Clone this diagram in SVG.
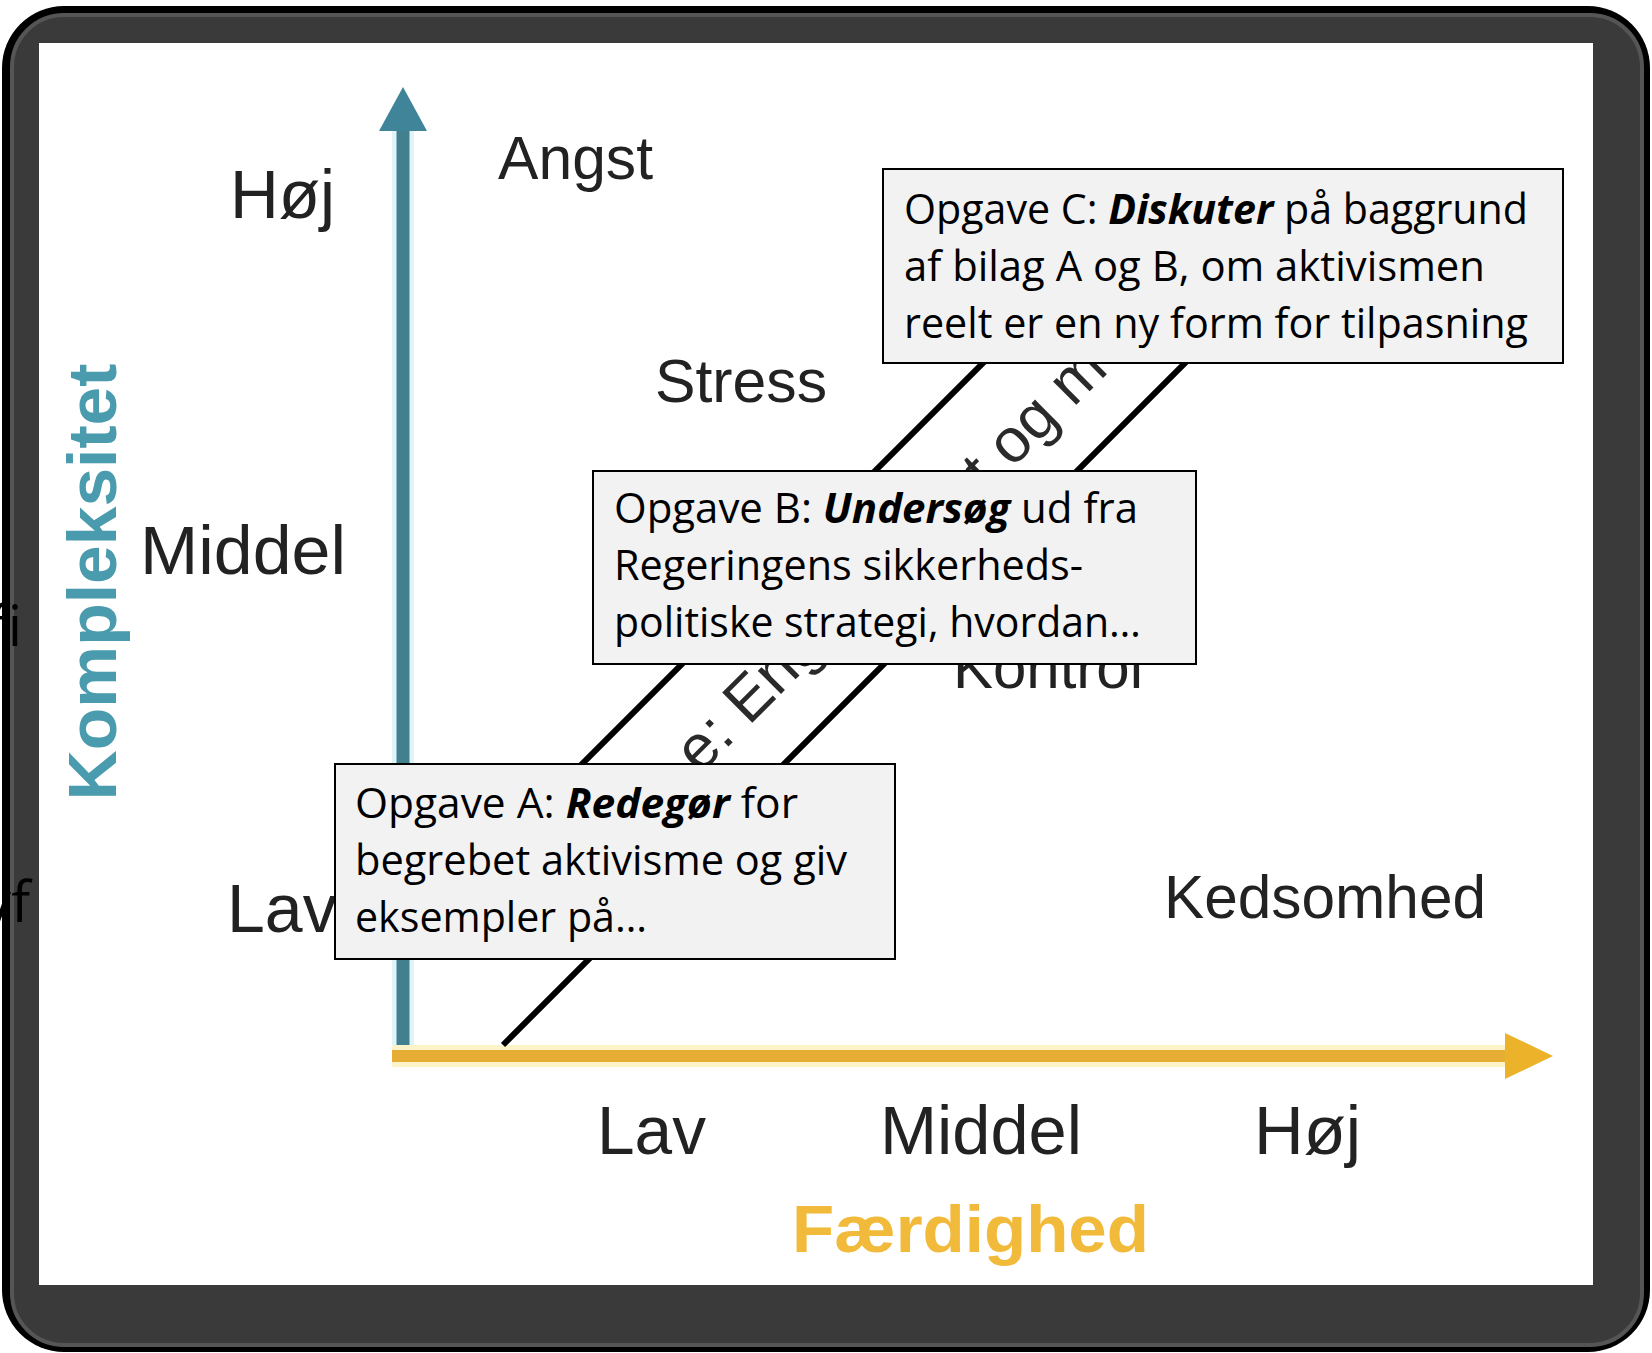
<svg xmlns="http://www.w3.org/2000/svg" width="1652" height="1353" viewBox="0 0 1652 1353">
<style>
.lbl{font-family:"Liberation Sans",Arial,sans-serif;fill:#222;}
.tick{font-size:68px;}
.zone{font-size:61px;}
.axt{font-family:"Liberation Sans",Arial,sans-serif;font-weight:bold;}
.box rect{fill:#f2f2f2;stroke:#000;stroke-width:2;}
.bt{font-family:"Open Sans","Noto Sans","Liberation Sans",sans-serif;font-size:42px;fill:#000;}
.bi{font-weight:bold;font-style:italic;}
.flow{stroke:#000;stroke-width:6;fill:none;}
.band{font-family:"Liberation Sans",Arial,sans-serif;font-size:62px;fill:#2a2a2a;}
.edge{font-family:"Open Sans","Noto Sans",sans-serif;font-size:56px;fill:#000;}
</style>
<rect x="0" y="0" width="1652" height="1353" fill="#fff"/>
<g id="frame">
<rect x="2" y="6" width="1648" height="1346" rx="62" fill="#000"/>
<rect x="12" y="15" width="1630" height="1330" rx="52" fill="#3a3a3a" stroke="#555" stroke-width="4"/>
<rect x="39" y="43" width="1554" height="1242" fill="#fff"/>
</g>
<g id="edge-fragments">
<text class="edge" x="22" y="646" text-anchor="end">fi</text>
<text class="edge" x="30" y="922" text-anchor="end">yf</text>
</g>
<g id="axes">
<line x1="403" y1="1048" x2="403" y2="128" stroke="#dff5f8" stroke-width="22"/>
<line x1="403" y1="1048" x2="403" y2="128" stroke="#42808f" stroke-width="13"/>
<polygon points="403,87 427,131 379,131" fill="#3f8498"/>
<line x1="392" y1="1056" x2="1508" y2="1056" stroke="#fdf3c8" stroke-width="22"/>
<line x1="392" y1="1056" x2="1508" y2="1056" stroke="#e6ae35" stroke-width="12"/>
<polygon points="1553,1056 1505,1033 1505,1079" fill="#ecb32a"/>
</g>
<g id="axis-labels">
<text class="axt" transform="translate(116,582) rotate(-90)" text-anchor="middle" font-size="68" fill="#4a9bad" textLength="437" lengthAdjust="spacingAndGlyphs">Kompleksitet</text>
<text class="axt" x="792" y="1252" font-size="67" fill="#f2ba3a" textLength="357" lengthAdjust="spacingAndGlyphs">Færdighed</text>
<text class="lbl tick" x="230" y="218" textLength="105" lengthAdjust="spacingAndGlyphs">Høj</text>
<text class="lbl tick" x="140" y="574" textLength="206" lengthAdjust="spacingAndGlyphs">Middel</text>
<text class="lbl tick" x="227" y="932" font-size="70">Lav</text>
<text class="lbl tick" x="597" y="1154" textLength="109" lengthAdjust="spacingAndGlyphs">Lav</text>
<text class="lbl tick" x="880" y="1154" textLength="202" lengthAdjust="spacingAndGlyphs">Middel</text>
<text class="lbl tick" x="1254" y="1154" textLength="107" lengthAdjust="spacingAndGlyphs">Høj</text>
</g>
<g id="zone-labels">
<text class="lbl zone" x="498" y="179" textLength="155" lengthAdjust="spacingAndGlyphs">Angst</text>
<text class="lbl zone" x="655" y="402" textLength="172" lengthAdjust="spacingAndGlyphs">Stress</text>
<text class="lbl zone" x="953" y="688" textLength="190" lengthAdjust="spacingAndGlyphs">Kontrol</text>
<text class="lbl zone" x="1164" y="918" textLength="322" lengthAdjust="spacingAndGlyphs">Kedsomhed</text>
</g>
<g id="connectors">
<line class="flow" x1="403" y1="943" x2="1146" y2="200"/>
<line class="flow" x1="503" y1="1045" x2="1348" y2="200"/>
</g>
<g id="flow-band-text">
<text class="band" transform="translate(700,775) rotate(-45)">e: Eng</text>
<text class="band" transform="translate(988,493) rotate(-45)">t og m</text>
</g>
<g id="box-c" class="box">
<rect x="883" y="169" width="680" height="194"/>
<text class="bt" x="904" y="224" textLength="624" lengthAdjust="spacingAndGlyphs">Opgave C: <tspan class="bi">Diskuter</tspan> på baggrund</text>
<text class="bt" x="904" y="281" textLength="581" lengthAdjust="spacingAndGlyphs">af bilag A og B, om aktivismen</text>
<text class="bt" x="904" y="338" textLength="624" lengthAdjust="spacingAndGlyphs">reelt er en ny form for tilpasning</text>
</g>
<g id="box-b" class="box">
<rect x="593" y="471" width="603" height="193"/>
<text class="bt" x="614" y="523" textLength="524" lengthAdjust="spacingAndGlyphs">Opgave B: <tspan class="bi">Undersøg</tspan> ud fra</text>
<text class="bt" x="614" y="580" textLength="469" lengthAdjust="spacingAndGlyphs">Regeringens sikkerheds-</text>
<text class="bt" x="614" y="637" textLength="527" lengthAdjust="spacingAndGlyphs">politiske strategi, hvordan…</text>
</g>
<g id="box-a" class="box">
<rect x="335" y="764" width="560" height="195"/>
<text class="bt" x="355" y="818" textLength="443" lengthAdjust="spacingAndGlyphs">Opgave A: <tspan class="bi">Redegør</tspan> for</text>
<text class="bt" x="355" y="875" textLength="492" lengthAdjust="spacingAndGlyphs">begrebet aktivisme og giv</text>
<text class="bt" x="355" y="932" textLength="292" lengthAdjust="spacingAndGlyphs">eksempler på…</text>
</g>
</svg>
